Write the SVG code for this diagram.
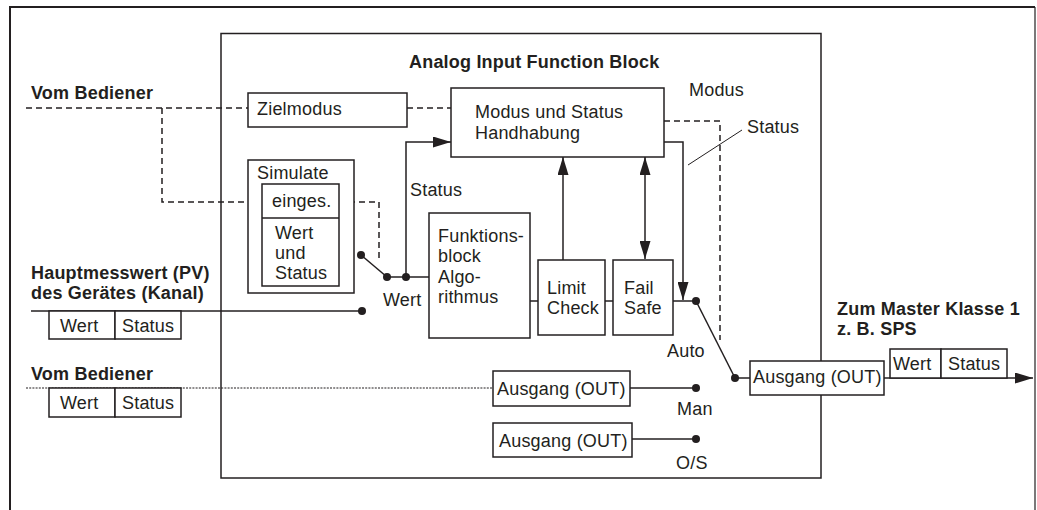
<svg xmlns="http://www.w3.org/2000/svg" width="1037" height="510" viewBox="0 0 1037 510">
<style>
text{font-family:"Liberation Sans",Arial,Helvetica,sans-serif;font-size:18px;fill:#231f20;letter-spacing:0.2px}
.b{font-weight:bold}
.box{fill:#fff;stroke:#231f20;stroke-width:1.5}
.ln{fill:none;stroke:#231f20;stroke-width:1.5}
.dash{fill:none;stroke:#231f20;stroke-width:1.5;stroke-dasharray:6 4}
.dot{fill:none;stroke:#231f20;stroke-width:1.2;stroke-dasharray:2 1.2}
.thin{fill:none;stroke:#231f20;stroke-width:1}
.pt{fill:#231f20}
</style>
<defs>
<marker id="arr" viewBox="0 0 18 11" markerWidth="18" markerHeight="11" refX="18" refY="5.5" orient="auto-start-reverse" markerUnits="userSpaceOnUse">
<path d="M0,0 L18,5.5 L0,11 z" fill="#231f20"/>
</marker>
</defs>
<rect width="1037" height="510" fill="#fff"/>
<g id="frame">
<path d="M10,510 V7 H1035" fill="none" stroke="#231f20" stroke-width="2"/>
<path d="M1035,7 V510" fill="none" stroke="#231f20" stroke-width="1.2"/>
</g>
<g id="ai-block">
<rect class="box" x="221" y="33.5" width="600" height="444.5"/>
<text class="b" x="409" y="68">Analog Input Function Block</text>
</g>
<g id="connectors">
<path class="dash" d="M26,108 H248"/>
<path class="dash" d="M407,108 H451"/>
<path class="dash" d="M162,108 V202 H262"/>
<path class="dash" d="M339,202 H379 V262"/>
<path class="dash" d="M664,121 H720 V340"/>
<path class="ln" d="M361,255 L387,277"/>
<path class="ln" d="M387,277 H429"/>
<path class="ln" d="M406,277 V142 H451" marker-end="url(#arr)"/>
<path class="ln" d="M31,311 H362"/>
<path class="ln" d="M530,301 H538"/>
<path class="ln" d="M605,301 H613"/>
<path class="ln" d="M563,260 V157" marker-end="url(#arr)"/>
<path class="ln" d="M645,259 V157" marker-start="url(#arr)" marker-end="url(#arr)"/>
<path class="ln" d="M664,142 H683 V300" marker-end="url(#arr)"/>
<path class="ln" d="M673,301 H696"/>
<path class="ln" d="M696,301 L735,378"/>
<path class="ln" d="M735,378 H750"/>
<path class="ln" d="M884,378 H1033" marker-end="url(#arr)"/>
<path class="thin" d="M688,165 L742,130"/>
<path class="dot" d="M26,388 H493"/>
<path class="ln" d="M630,388 H696"/>
<path class="ln" d="M632,439 H696"/>
<circle class="pt" cx="361" cy="255" r="4"/>
<circle class="pt" cx="387" cy="277" r="4"/>
<circle class="pt" cx="406" cy="277" r="4"/>
<circle class="pt" cx="362" cy="311" r="4"/>
<circle class="pt" cx="696" cy="301" r="4"/>
<circle class="pt" cx="735" cy="378" r="4"/>
<circle class="pt" cx="696" cy="388" r="4"/>
<circle class="pt" cx="696" cy="439" r="4"/>
</g>
<g id="labels">
<text class="b" x="31" y="99">Vom Bediener</text>
<text class="b" x="31" y="279">Hauptmesswert (PV)</text>
<text class="b" x="31" y="299">des Gerätes (Kanal)</text>
<text class="b" x="31" y="380">Vom Bediener</text>
<text class="b" x="837" y="315">Zum Master Klasse 1</text>
<text class="b" x="837" y="335">z. B. SPS</text>
<text x="689" y="96">Modus</text>
<text x="747" y="133">Status</text>
<text x="410" y="196">Status</text>
<text x="383" y="306">Wert</text>
<text x="667" y="357">Auto</text>
<text x="677" y="415">Man</text>
<text x="676" y="469">O/S</text>
</g>
<g id="zielmodus">
<rect class="box" x="248" y="93" width="159" height="34"/>
<text x="257" y="115">Zielmodus</text>
</g>
<g id="modus-status">
<rect class="box" x="451" y="88" width="213" height="69"/>
<text x="475" y="118">Modus und Status</text>
<text x="475" y="139">Handhabung</text>
</g>
<g id="simulate">
<rect class="box" x="248" y="160" width="106" height="133"/>
<text x="257" y="179">Simulate</text>
<rect class="box" x="262" y="184" width="77" height="102"/>
<path class="ln" d="M262,218 H339"/>
<text x="272" y="207">einges.</text>
<text x="275" y="239">Wert</text>
<text x="275" y="259">und</text>
<text x="275" y="279">Status</text>
</g>
<g id="funktionsblock">
<rect class="box" x="429" y="213" width="101" height="125"/>
<text x="438" y="242">Funktions-</text>
<text x="438" y="262">block</text>
<text x="438" y="283">Algo-</text>
<text x="438" y="303">rithmus</text>
</g>
<g id="limit-check">
<rect class="box" x="538" y="260" width="67" height="75"/>
<text x="547" y="294">Limit</text>
<text x="547" y="314">Check</text>
</g>
<g id="fail-safe">
<rect class="box" x="613" y="260" width="60" height="75"/>
<text x="624" y="294">Fail</text>
<text x="624" y="314">Safe</text>
</g>
<g id="pv-data">
<rect class="box" x="49" y="311" width="66" height="28"/>
<rect class="box" x="115" y="311" width="66" height="28"/>
<text x="60" y="332">Wert</text>
<text x="122" y="332">Status</text>
</g>
<g id="op-data">
<rect class="box" x="49" y="388" width="66" height="29"/>
<rect class="box" x="115" y="388" width="66" height="29"/>
<text x="60" y="409">Wert</text>
<text x="122" y="409">Status</text>
</g>
<g id="out-man">
<rect class="box" x="493" y="371" width="137" height="35"/>
<text x="497" y="395">Ausgang (OUT)</text>
</g>
<g id="out-os">
<rect class="box" x="493" y="423" width="139" height="34"/>
<text x="499" y="447">Ausgang (OUT)</text>
</g>
<g id="out-main">
<rect class="box" x="750" y="361" width="134" height="34"/>
<text x="753" y="383">Ausgang (OUT)</text>
</g>
<g id="out-data">
<rect class="box" x="890" y="349" width="51" height="29"/>
<rect class="box" x="941" y="349" width="66" height="29"/>
<text x="893" y="370">Wert</text>
<text x="948" y="370">Status</text>
</g>
</svg>
